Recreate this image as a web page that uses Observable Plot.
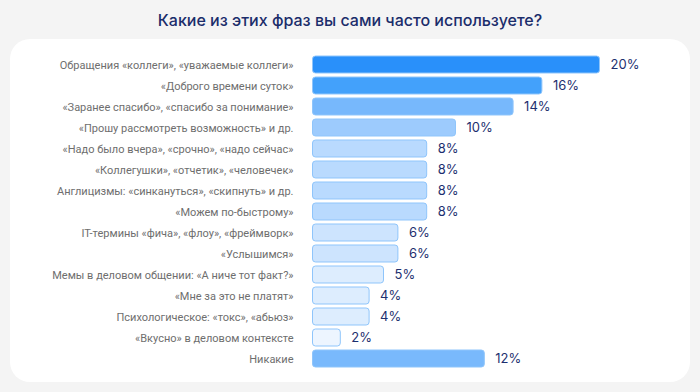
<!DOCTYPE html>
<html><head><meta charset="utf-8">
<script src="https://cdn.jsdelivr.net/npm/d3@7"></script>
<script src="https://cdn.jsdelivr.net/npm/@observablehq/plot@0.6"></script>
<style>
html,body{margin:0;padding:0;}
body{width:700px;height:392px;background:#f4f4f4;position:relative;overflow:hidden;font-family:Inter, "Noto Sans", sans-serif;}
#title{position:absolute;top:10px;left:0;width:700px;text-align:center;font-size:16px;line-height:20px;font-weight:500;color:#1b2d6b;}
#card{position:absolute;left:10px;top:39px;width:680px;height:343px;background:#fff;border-radius:20px;}
#chart{position:absolute;left:0;top:39px;}
</style></head><body>
<div id="title">Какие из этих фраз вы сами часто используете?</div>
<div id="card"></div>
<div id="chart"></div>
<script>
const phrases = [
  "Обращения «коллеги», «уважаемые коллеги»",
  "«Доброго времени суток»",
  "«Заранее спасибо», «спасибо за понимание»",
  "«Прошу рассмотреть возможность» и др.",
  "«Надо было вчера», «срочно», «надо сейчас»",
  "«Коллегушки», «отчетик», «человечек»",
  "Англицизмы: «синкануться», «скипнуть» и др.",
  "«Можем по-быстрому»",
  "IT-термины «фича», «флоу», «фреймворк»",
  "«Услышимся»",
  "Мемы в деловом общении: «А ниче тот факт?»",
  "«Мне за это не платят»",
  "Психологическое: «токс», «абьюз»",
  "«Вкусно» в деловом контексте",
  "Никакие"
];
const shares = [20, 16, 14, 10, 8, 8, 8, 8, 6, 6, 5, 4, 4, 2, 12];

const data = phrases.map((p, i) => ({phrase: p, value: shares[i]}));
const colorDomain = [2, 4, 5, 6, 8, 10, 12, 14, 16, 20];
const colorRange = ["#edf5ff", "#ddedfe", "#ddedfe", "#cde4fe", "#b9dafe", "#9dcbfd", "#79b9fc", "#77b8fc", "#43a1fb", "#2990fa"];

const chart = Plot.plot({
  width: 700,
  height: 353,
  marginLeft: 312,
  marginRight: 100,
  marginTop: 10,
  marginBottom: 19,
  style: {background: "transparent", fontFamily: "Inter, 'Noto Sans', sans-serif"},
  x: {domain: [0, 20], axis: null},
  y: {domain: phrases, padding: 0.2, label: null, axis: null},
  color: {type: "ordinal", domain: colorDomain, range: colorRange},
  marks: [
    Plot.barX(data, {x: "value", y: "phrase", fill: d => d.value, stroke: "#8fc5fb", strokeWidth: 1, rx: 3, insetLeft: 0.5, insetRight: 0.5}),
    Plot.text(data, {x: "value", y: "phrase", text: d => d.value + "%", textAnchor: "start", dx: 10, fill: "#1d2f6f", fontSize: 13, fontWeight: 400}),
    Plot.axisY({tickSize: 0, tickPadding: 19, fontSize: 11, color: "#6e6e6e", label: null, fontFamily: "Roboto, sans-serif"})
  ]
});
document.getElementById("chart").appendChild(chart);
</script>
</body></html>
